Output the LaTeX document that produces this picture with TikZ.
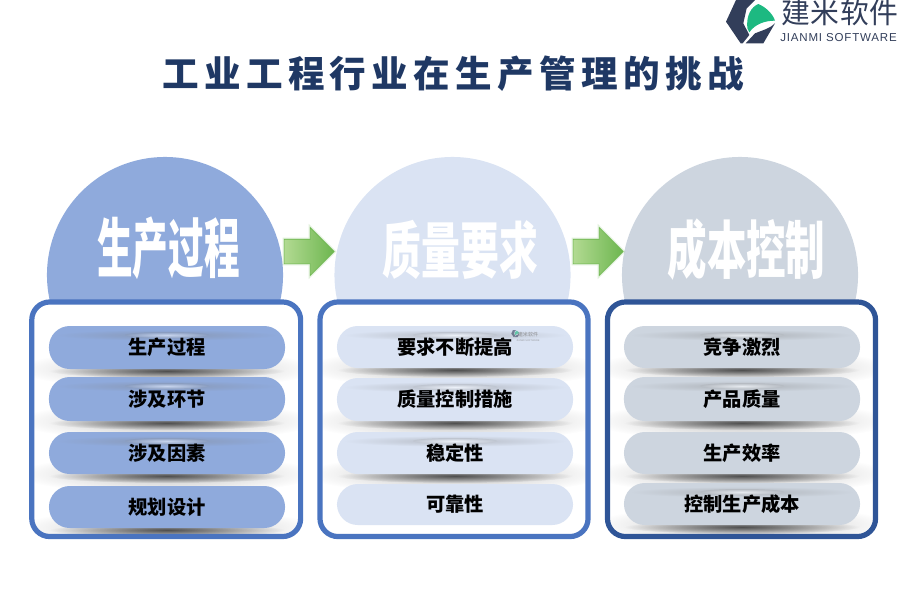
\documentclass[tikz,border=0pt]{standalone}
\usepackage{fontspec}
\usepackage{graphicx}
\setmainfont{Noto Sans CJK SC}
\newfontfamily\latinfont{Liberation Sans}
\usetikzlibrary{shapes.arrows,fadings}

\definecolor{titleblue}{HTML}{1F3864}
\definecolor{logodark}{HTML}{323E5A}
\definecolor{logogreen}{HTML}{1DB981}
\definecolor{blueA}{HTML}{8FAADC}
\definecolor{blueB}{HTML}{DAE3F3}
\definecolor{blueC}{HTML}{CDD5DF}
\definecolor{ringA}{HTML}{4A74C0}
\definecolor{ringC}{HTML}{2F5597}
\definecolor{arrowlight}{HTML}{B2DA92}
\definecolor{arrowdark}{HTML}{6DB64F}

\tikzfading[name=halo,inner color=transparent!0,outer color=transparent!100]

\tikzset{
  bigcircle/.style={circle,minimum size=5.9cm,inner sep=0},
  bigword/.style={text=white,font=\fontsize{46}{46}\selectfont\bfseries},
  panelback/.style={fill=white,rounded corners=0.45cm,inner sep=0,minimum height=5.8625cm},
  panelring/.style={draw,line width=3.7pt,rounded corners=0.45cm,inner sep=0,minimum height=5.8625cm},
  pill/.style={rounded corners=0.52cm,minimum width=5.9cm,inner sep=0},
  pillword/.style={font=\fontsize{13.7}{14}\selectfont\bfseries,text=black},
  greenarrow/.style={single arrow,single arrow head extend=0.29cm,single arrow head indent=0,
    minimum height=1.25cm,inner xsep=0,inner ysep=0.3cm,
    preaction={draw=arrowdark,opacity=0.2,line width=2.2pt},
    left color=arrowlight,right color=arrowdark,draw=arrowdark,line width=0.4pt},
}

% one row of a panel: name, centre x, top, bottom, colour, word, shadow 0/1, sheen 0/1
\newcommand{\pillrow}[8]{
  \ifnum#7=1
    \fill[black,fill opacity=0.24,path fading=halo] (#2,#4) ellipse [x radius=150,y radius=20];
    \fill[black,fill opacity=0.6,path fading=halo] (#2,#4+2) ellipse [x radius=118,y radius=7];
  \fi
  \node[pill,fill=#5,minimum height={(#4-#3)*0.025cm}] (#1) at (#2,{(#3+#4)/2}) {};
  \ifnum#8=1
    \shade[inner color=#5!60!gray,outer color=#5] (#2,#3+9) ellipse [x radius=112,y radius=5.5];
    \shade[inner color=#5!50!white,outer color=#5!70!gray] (#2,#3+9) ellipse [x radius=42,y radius=3];
  \fi
  \node[pillword] (#1word) at (#1) {#6};
}
% the mark of the logo
\newcommand{\logomark}{
  \fill[logodark] (108,0) -- (165,0) -- (140,25) -- (130,70) -- (148,105) -- (128,130) -- (122,130) -- (78,65) -- cycle;
  \fill[logodark] (137,130) -- (165,100) .. controls (190,90) and (210,85) .. (225,70) -- (190,130) -- cycle;
  \fill[logogreen] (142,85) .. controls (138,45) and (155,20) .. (175,12) .. controls (195,20) and (218,40) .. (225,62) .. controls (195,62) and (165,72) .. (148,97) -- cycle;
}

\begin{document}
\begin{tikzpicture}[x=0.025cm,y=-0.025cm]
\useasboundingbox (0,0) rectangle (900,600);

% logo
\begin{scope}[shift={(700,0)},scale=0.3333]
  \logomark
\end{scope}
\node[text=logodark,font=\fontsize{20.5}{21}\selectfont] (logoword) at (840,13) {\addfontfeature{LetterSpace=2}建米软件};
\node[text=logodark,font=\latinfont\fontsize{8.2}{9}\selectfont] (logolatin) at (838.5,38) {\addfontfeature{LetterSpace=7}JIANMI SOFTWARE};

% title
\node[text=titleblue,font=\fontsize{26}{27}\selectfont\bfseries] (title) at (453,74) {\addfontfeature{LetterSpace=14.6}工业工程行业在生产管理的挑战};

% three circles
\node[bigcircle,fill=blueA] (circA) at (165,275) {};
\node[bigcircle,fill=blueB] (circB) at (452.5,275) {};
\node[bigcircle,fill=blueC] (circC) at (740,275) {};
\node[bigword] (wordA) at (168.5,248) {\scalebox{0.55}[1]{生产过程}};
\node[bigword] (wordB) at (460.5,250) {\scalebox{0.6}[0.95]{质量要求}};
\node[bigword] (wordC) at (746.5,250) {\scalebox{0.61}[0.97]{成本控制}};

% arrows between them
\node[greenarrow] (arrowA) at (303,251.5) {};
\node[greenarrow] (arrowB) at (592,251.5) {};

% left panel
\node[panelback,minimum width=6.72cm] (panelA) at (166.2,419.25) {};
\begin{scope}
  \clip[rounded corners=0.45cm] (panelA.south west) rectangle (panelA.north east);
  \foreach \n/\t/\b/\w/\s/\h in {a/326/369/生产过程/1/1,b/377/421/涉及环节/1/1,c/432/474/涉及因素/1/1,d/486/528/规划设计/1/0}
    {\pillrow{pillA\n}{167}{\t}{\b}{blueA}{\w}{\s}{\h}}
\end{scope}
\node[panelring,draw=ringA,minimum width=6.72cm] (ringA) at (panelA) {};

% middle panel
\node[panelback,minimum width=6.7cm] (panelB) at (454,419.25) {};
\begin{scope}
  \clip[rounded corners=0.45cm] (panelB.south west) rectangle (panelB.north east);
  \foreach \n/\t/\b/\w/\s/\h in {a/326/368/要求不断提高/1/1,b/378/421/质量控制措施/1/1,c/432/474/稳定性/1/1,d/484/525/可靠性/0/0}
    {\pillrow{pillB\n}{455}{\t}{\b}{blueB}{\w}{\s}{\h}}
\end{scope}
\node[panelring,draw=ringA,minimum width=6.7cm] (ringB) at (panelB) {};

% right panel
\node[panelback,minimum width=6.7cm] (panelC) at (741.5,419.25) {};
\begin{scope}
  \clip[rounded corners=0.45cm] (panelC.south west) rectangle (panelC.north east);
  \foreach \n/\t/\b/\w/\s/\h in {a/326/368/竞争激烈/1/1,b/377/421/产品质量/1/1,c/432/474/生产效率/1/0,d/483/525/控制生产成本/1/1}
    {\pillrow{pillC\n}{742}{\t}{\b}{blueC}{\w}{\s}{\h}}
\end{scope}
\node[panelring,draw=ringC,minimum width=6.7cm] (ringC) at (panelC) {};

% small mark over the middle panel
\begin{scope}[shift={(507,330)},scale=0.055,opacity=0.6]
  \logomark
\end{scope}
\node[text=gray,opacity=0.8,font=\fontsize{3.6}{4}\selectfont,inner sep=0] (markword) at (528,335) {建米软件};
\node[text=gray,opacity=0.7,font=\latinfont\fontsize{1.8}{2}\selectfont,inner sep=0] (marklatin) at (528,341) {JIANMI SOFTWARE};
\end{tikzpicture}
\end{document}
